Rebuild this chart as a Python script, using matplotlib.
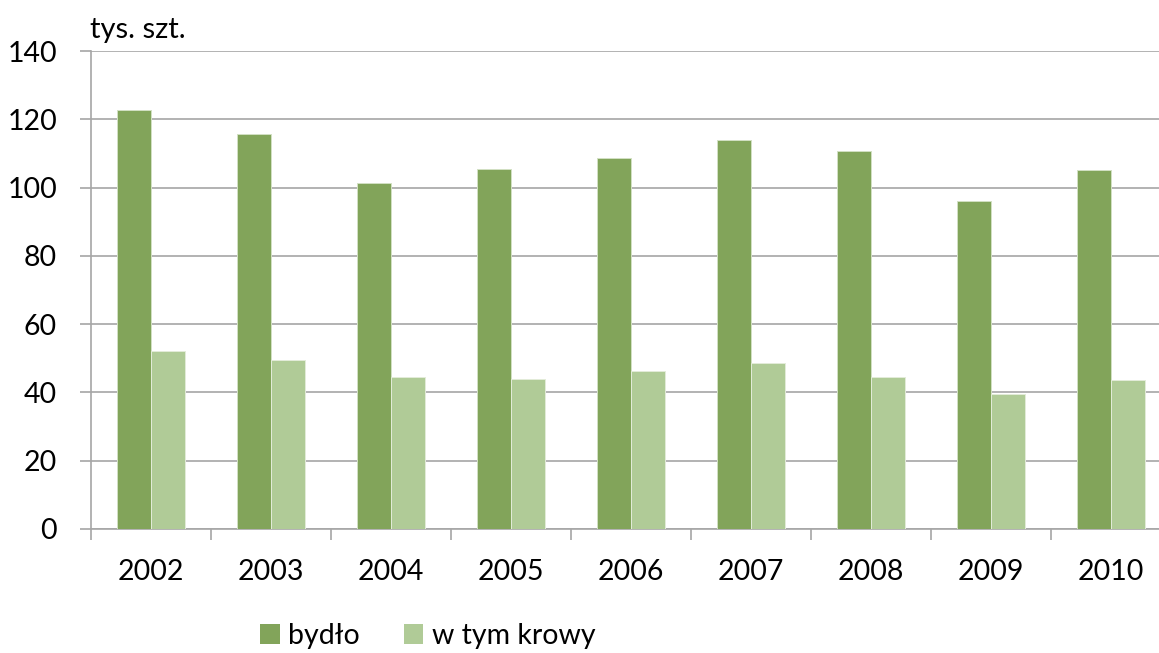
import matplotlib
matplotlib.use("Agg")
import matplotlib.pyplot as plt
import numpy as np
from matplotlib.patches import Patch

years = ["2002", "2003", "2004", "2005", "2006", "2007", "2008", "2009", "2010"]
bydlo = [122.6, 115.8, 101.3, 105.3, 108.6, 113.9, 110.8, 96.1, 105.1]
krowy = [52.0, 49.4, 44.4, 43.9, 46.1, 48.5, 44.5, 39.4, 43.5]
series_names = ["bydło", "w tym krowy"]
y_ticks = [0, 20, 40, 60, 80, 100, 120, 140]
unit_label = "tys. szt."

c_bydlo = "#82A45A"
c_krowy = "#B0CB97"
grid_c = "#A6A6A6"

plt.rcParams["font.family"] = ["Lato", "DejaVu Sans"]
FS = 20.5

W, H = 1159, 653
fig = plt.figure(figsize=(W / 100, H / 100), dpi=100)
ax = fig.add_axes([91 / W, 124.2 / H, 1080 / W, (602 - 124.2) / H])

x = np.arange(len(years))
bw = 0.283
ax.bar(x - bw / 2, bydlo, bw, color=c_bydlo, edgecolor="#D2E0C3", linewidth=0.7, zorder=3)
ax.bar(x + bw / 2, krowy, bw, color=c_krowy, edgecolor="#E3ECD9", linewidth=0.7, zorder=3)

ax.set_xlim(-0.5, len(years) - 0.5)
ax.set_ylim(0, 140)
ax.set_yticks(y_ticks)
ax.set_yticklabels([str(v) for v in y_ticks], fontsize=FS)
ax.yaxis.grid(True, color=grid_c, linewidth=1.2, zorder=0)
ax.set_axisbelow(True)

ax.set_xticks(x)
ax.set_xticklabels(years, fontsize=FS)
ax.set_xticks(np.arange(-0.5, len(years), 1.0), minor=True)
ax.tick_params(axis="x", which="major", length=0, pad=22)
ax.tick_params(axis="x", which="minor", length=8, color=grid_c, width=1.2, direction="out")
ax.tick_params(axis="y", which="major", length=8, color=grid_c, width=1.2, pad=16.5)

for s in ["top", "right"]:
    ax.spines[s].set_visible(False)
for s in ["left", "bottom"]:
    ax.spines[s].set_color(grid_c)
    ax.spines[s].set_linewidth(1.2)

fig.text(90 / W, 1 - 30 / H, unit_label, fontsize=FS + 0.5, ha="left", va="center")

handles = [Patch(facecolor=c_bydlo, edgecolor="none"), Patch(facecolor=c_krowy, edgecolor="none")]
fig.legend(handles, series_names, loc="center", bbox_to_anchor=(428 / W, 17 / H), ncol=2,
           frameon=False, fontsize=FS, handlelength=0.68, handleheight=0.68,
           handletextpad=0.3, columnspacing=1.55, borderpad=0)

fig.savefig("out.png", dpi=100)
